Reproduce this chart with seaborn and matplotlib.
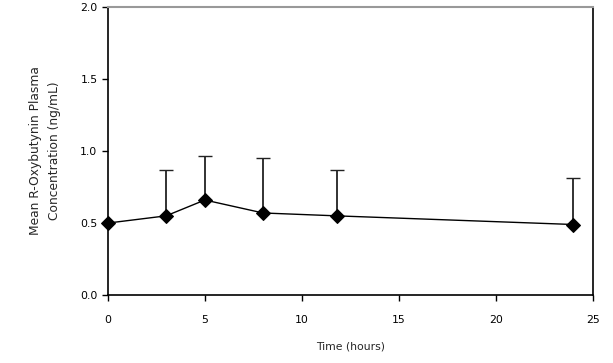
import numpy as np
import pandas as pd
import matplotlib
matplotlib.use("Agg")
import matplotlib.pyplot as plt
import seaborn as sns

# data
time_h = [0, 3, 5, 8, 11.8, 24]
mean_conc = [0.50, 0.55, 0.66, 0.57, 0.55, 0.49]
upper_sd = [0.0, 0.32, 0.305, 0.38, 0.32, 0.32]

df = pd.DataFrame({"time": time_h, "conc": mean_conc})
tops = np.array(mean_conc) + np.array(upper_sd)
has_err = np.array(upper_sd) > 0

sns.set_style("ticks")
plt.rcParams['font.family'] = ['DejaVu Sans']

fig = plt.figure(figsize=(6.13, 3.63), dpi=100)
ax = fig.add_axes([0.176, 0.187, 0.791, 0.794])

# upper-only error bars: stems + cap at the top only
ax.vlines(np.array(time_h)[has_err], np.array(mean_conc)[has_err], tops[has_err],
          color="#222222", lw=1.3)
ax.plot(np.array(time_h)[has_err], tops[has_err], ls="none", marker="_",
        markersize=9.5, markeredgewidth=1.0, color="#222222")
sns.lineplot(data=df, x="time", y="conc", ax=ax, color="black", lw=1.0,
             marker="D", markersize=7, markeredgecolor="black", clip_on=False)

ax.set_xlim(0, 25)
ax.set_ylim(0, 2.0)
ax.set_xticks([0, 5, 10, 15, 20, 25])
ax.set_yticks([0.0, 0.5, 1.0, 1.5, 2.0])
ax.set_yticklabels(["0.0", "0.5", "1.0", "1.5", "2.0"])
ax.tick_params(labelsize=7.8, length=4, width=1, colors="black")
ax.tick_params(axis="x", pad=10)

for s in ["left", "bottom", "right"]:
    ax.spines[s].set_color("black")
    ax.spines[s].set_linewidth(1.2)
ax.spines["top"].set_color("#999999")
ax.spines["top"].set_linewidth(1.5)

ax.set_xlabel("Time (hours)", fontsize=7.8, labelpad=12)
ax.set_ylabel("Mean R-Oxybutynin Plasma\nConcentration (ng/mL)", fontsize=8.8,
              labelpad=14, linespacing=1.6)

fig.savefig("out.png", dpi=100)
